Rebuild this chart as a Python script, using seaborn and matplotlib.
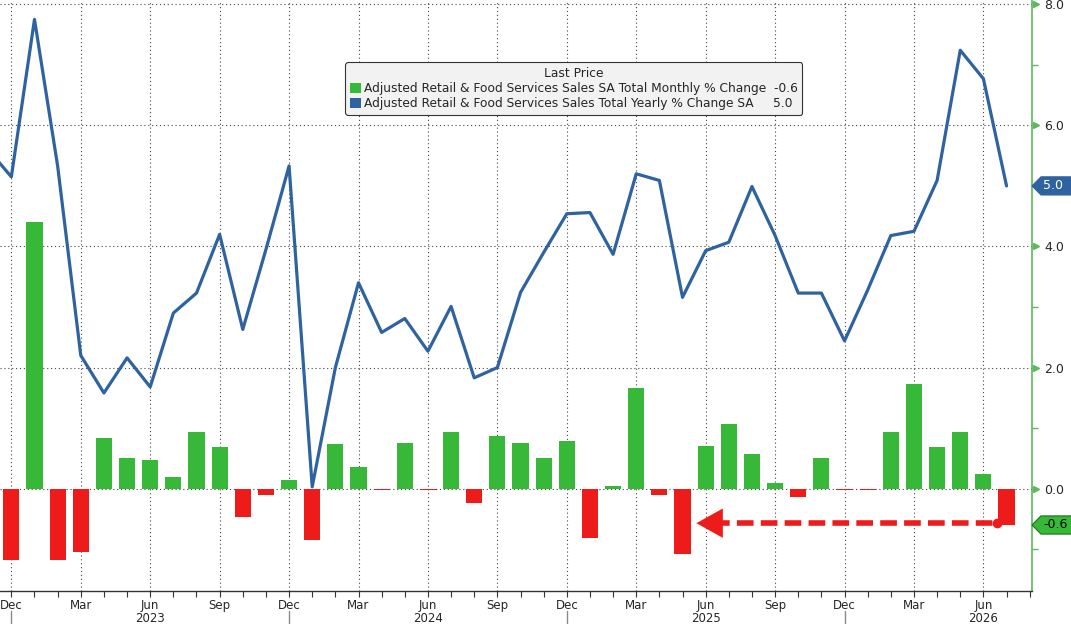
import pandas as pd
import seaborn as sns
from matplotlib import pyplot as plt
from matplotlib import transforms
from matplotlib.patches import Patch, Polygon

# monthly % change (bars), Dec 2022 .. Jul 2026
mom_months = pd.period_range("2022-12", "2026-07", freq="M")
mom_change = [-1.17, 4.40, -1.18, -1.05, 0.83, 0.51, 0.48, 0.20, 0.94, 0.69, -0.46, -0.11,
              0.15, -0.84, 0.73, 0.35, -0.02, 0.76, -0.03, 0.94, -0.24, 0.87, 0.76, 0.51,
              0.78, -0.82, 0.05, 1.67, -0.11, -1.08, 0.71, 1.07, 0.57, 0.09, -0.14, 0.51,
              -0.02, -0.02, 0.94, 1.73, 0.68, 0.94, 0.25, -0.60]

# yearly % change (line), Nov 2022 .. Jul 2026
yoy_months = pd.period_range("2022-11", "2026-07", freq="M")
yoy_change = [5.60, 5.15, 7.75, 5.33, 2.20, 1.58, 2.16, 1.68, 2.90, 3.23, 4.20, 2.63, 3.95,
              5.33, 0.03, 2.00, 3.40, 2.58, 2.81, 2.27, 3.01, 1.83, 2.00, 3.24, 3.90,
              4.54, 4.56, 3.87, 5.20, 5.09, 3.16, 3.93, 4.07, 4.99, 4.18, 3.23, 3.23,
              2.44, 3.28, 4.18, 4.25, 5.09, 7.24, 6.77, 5.00]

y_ticks = [0.0, 2.0, 4.0, 6.0, 8.0]
legend_title = "Last Price"
mom_name = "Adjusted Retail & Food Services Sales SA Total Monthly % Change"
yoy_name = "Adjusted Retail & Food Services Sales Total Yearly % Change SA"

green = "#38b838"
red = "#ee1b1b"
blue = "#2f63a0"
axis_green = "#5cb85c"

sns.set_style("white")
plt.rcParams["font.family"] = ["DejaVu Sans"]

start = mom_months[0]
mom_df = pd.DataFrame({
    "idx": [(m - start).n for m in mom_months],
    "value": mom_change,
})
mom_df["sign"] = ["up" if v >= 0 else "down" for v in mom_change]
yoy_df = pd.DataFrame({
    "idx": [(m - start).n for m in yoy_months],
    "value": yoy_change,
})

fig = plt.figure(figsize=(10.71, 6.24), dpi=100)
ax = fig.add_axes([0, 33 / 624, 1032 / 1071, 591 / 624])

sns.barplot(data=mom_df, x="idx", y="value", hue="sign",
            palette={"up": green, "down": red}, native_scale=True,
            width=0.7, dodge=False, errorbar=None, legend=False,
            saturation=1, linewidth=0, ax=ax, zorder=2)
sns.lineplot(data=yoy_df, x="idx", y="value", color=blue, linewidth=2.3,
             ax=ax, zorder=3)

ax.set_xlim(-0.49, 44.1)
ax.set_ylim(-1.69, 8.07)
ax.set_xlabel("")
ax.set_ylabel("")

# x axis: quarter labels, every month a tick
all_idx = list(range(0, 45))
quarter_idx = [i for i in mom_df["idx"] if mom_months[i].month in (12, 3, 6, 9)]
ax.set_xticks(all_idx, minor=True)
ax.set_xticks(quarter_idx, [mom_months[i].strftime("%b") for i in quarter_idx])
ax.tick_params(axis="x", which="both", direction="out", length=4, width=0.8,
               color="#333333", pad=1.5, labelsize=8.5, bottom=True)

xt = ax.get_xaxis_transform()
for i in quarter_idx:
    m = mom_months[i]
    if m.month == 12:
        ax.plot([i, i], [-0.033, -0.06], transform=xt, clip_on=False,
                color="#8a8a8a", lw=1)
    if m.month == 6:
        ax.text(i, -0.046, str(m.year), transform=xt, ha="center", va="center",
                fontsize=8.5)

# right y axis
ax.yaxis.tick_right()
ax.set_yticks(y_ticks, [f"{v:.1f}" for v in y_ticks])
ax.set_yticks([-1, 1, 3, 5, 7], minor=True)
ax.tick_params(axis="y", which="major", length=0, pad=9, labelsize=9)
ax.tick_params(axis="y", which="minor", length=4, width=1, color=axis_green,
               direction="out", right=True, left=False)
ax.plot([1.004] * len(y_ticks), y_ticks, marker=">", ms=5, color=axis_green,
        linestyle="none", transform=transforms.blended_transform_factory(ax.transAxes, ax.transData),
        clip_on=False)

for s in ["top", "left"]:
    ax.spines[s].set_visible(False)
ax.spines["right"].set_color(axis_green)
ax.spines["right"].set_linewidth(1.2)
ax.spines["bottom"].set_color("#333333")
ax.spines["bottom"].set_linewidth(1)

ax.grid(True, which="major", axis="both", linestyle=(0, (1, 2.5)),
        color="#444444", linewidth=0.8)
ax.set_axisbelow(True)

# last value boxes on the axis
bt = transforms.blended_transform_factory(ax.transAxes, ax.transData)
def value_box(v, face, edge, text_color):
    h = 0.15
    pts = [(1.0, v), (1.0 + 9 / 1032, v + h), (1.04, v + h),
           (1.04, v - h), (1.0 + 9 / 1032, v - h)]
    ax.add_patch(Polygon(pts, closed=True, facecolor=face, edgecolor=edge,
                         lw=0.8, transform=bt, clip_on=False, zorder=5))
    ax.text(1.0 + 11 / 1032, v, f"{v:.1f}", transform=bt, ha="left", va="center",
            fontsize=9, color=text_color, zorder=6, clip_on=False)

value_box(yoy_change[-1], blue, blue, "white")
value_box(mom_change[-1], green, "#1e6e1e", "black")

# dashed arrow back to the last time the monthly change was this low
arrow_y = -0.57
tip_x = 29.6
end_x = mom_df["idx"].iloc[-1] - 0.4
ax.plot([tip_x + 0.7, end_x], [arrow_y, arrow_y], color=red, lw=4,
        dashes=(3, 1.3), dash_capstyle="butt", zorder=4)
ax.annotate("", xy=(tip_x, arrow_y), xytext=(tip_x + 1.0, arrow_y),
            arrowprops=dict(arrowstyle="-|>,head_length=0.9,head_width=0.5",
                            color=red, lw=0.1, mutation_scale=21,
                            shrinkA=0, shrinkB=0), zorder=4)
ax.plot([end_x], [arrow_y], marker="o", ms=6, color=red, zorder=4)

# legend
handles = [Patch(facecolor=green, edgecolor="none"),
           Patch(facecolor=blue, edgecolor="none")]
labels = [f"{mom_name}  {mom_change[-1]:.1f}",
          f"{yoy_name}     {yoy_change[-1]:.1f}"]
leg = ax.legend(handles, labels, title=legend_title, loc="upper center",
                bbox_to_anchor=(0.556, 0.905), fontsize=8.8, title_fontsize=8.8,
                handlelength=0.9, handleheight=0.9, handletextpad=0.3,
                borderpad=0.35, labelspacing=0.2, fancybox=True, framealpha=1)
leg.get_frame().set_facecolor("#f2f2f2")
leg.get_frame().set_edgecolor("#333333")
leg.get_frame().set_linewidth(0.8)
leg.set_zorder(7)

fig.savefig("out.png", dpi=100)
